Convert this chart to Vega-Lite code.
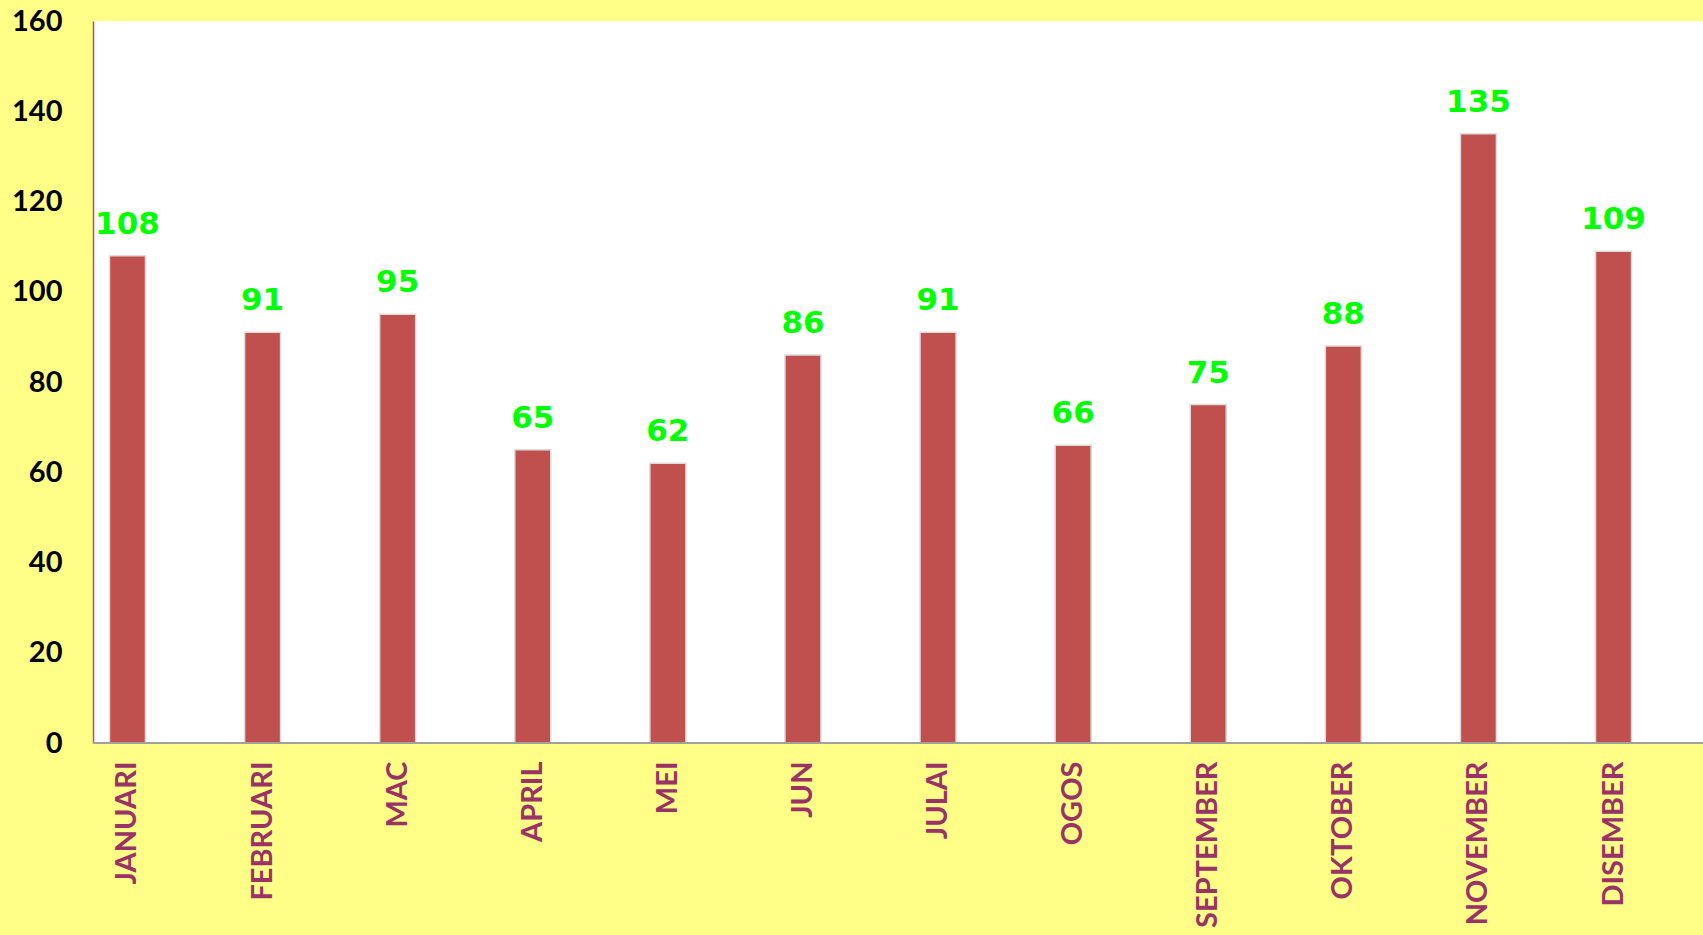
{
  "$schema": "https://vega.github.io/schema/vega-lite/v6.json",
  "width": 1610,
  "height": 722,
  "autosize": {"type": "none"},
  "padding": {"left": 93, "top": 21, "right": 0, "bottom": 192},
  "background": "#FFFF88",
  "view": {"fill": "white", "stroke": null},
  "data": {
    "values": [
      {"bulan": "JANUARI", "jumlah": 108},
      {"bulan": "FEBRUARI", "jumlah": 91},
      {"bulan": "MAC", "jumlah": 95},
      {"bulan": "APRIL", "jumlah": 65},
      {"bulan": "MEI", "jumlah": 62},
      {"bulan": "JUN", "jumlah": 86},
      {"bulan": "JULAI", "jumlah": 91},
      {"bulan": "OGOS", "jumlah": 66},
      {"bulan": "SEPTEMBER", "jumlah": 75},
      {"bulan": "OKTOBER", "jumlah": 88},
      {"bulan": "NOVEMBER", "jumlah": 135},
      {"bulan": "DISEMBER", "jumlah": 109}
    ]
  },
  "encoding": {
    "x": {
      "field": "bulan",
      "type": "nominal",
      "sort": null,
      "scale": {"range": [0, 1555], "paddingInner": 0.7335, "paddingOuter": 0.122},
      "axis": {
        "title": null,
        "domain": false,
        "ticks": false,
        "labelAngle": -90,
        "labelFont": "Lato",
        "labelFontWeight": "bold",
        "labelFontSize": 29,
        "labelColor": "#993366",
        "labelPadding": 18,
        "labelLimit": 0
      }
    },
    "y": {
      "field": "jumlah",
      "type": "quantitative",
      "scale": {"domain": [0, 160], "nice": false},
      "axis": {
        "title": null,
        "values": [0, 20, 40, 60, 80, 100, 120, 140, 160],
        "grid": false,
        "ticks": false,
        "domainColor": "#C0504D",
        "domainWidth": 1.5,
        "labelFont": "Lato",
        "labelFontWeight": "bold",
        "labelFontSize": 29,
        "labelColor": "#000000",
        "labelPadding": 31
      }
    }
  },
  "layer": [
    {
      "mark": {"type": "bar", "color": "#C0504D", "stroke": "#dcdcdc", "strokeWidth": 1.5}
    },
    {
      "mark": {"type": "rule", "color": "#A0A0A0", "strokeWidth": 2},
      "encoding": {"x": null, "y": {"datum": 0}}
    },
    {
      "mark": {
        "type": "text",
        "font": "DejaVu Sans",
        "fontWeight": "bold",
        "fontSize": 31,
        "color": "#00FF00",
        "baseline": "alphabetic",
        "dy": -22
      },
      "encoding": {"text": {"field": "jumlah", "type": "quantitative"}}
    },
    {
      "data": {"values": [{"judul": "BULAN"}]},
      "mark": {
        "type": "text",
        "font": "Liberation Sans",
        "fontWeight": "bold",
        "fontSize": 47,
        "color": "#0070C0",
        "align": "center",
        "baseline": "alphabetic",
        "dx": 36,
        "dy": -10
      },
      "encoding": {
        "x": null,
        "y": {"datum": 160},
        "text": {"field": "judul", "type": "nominal"}
      }
    }
  ]
}
